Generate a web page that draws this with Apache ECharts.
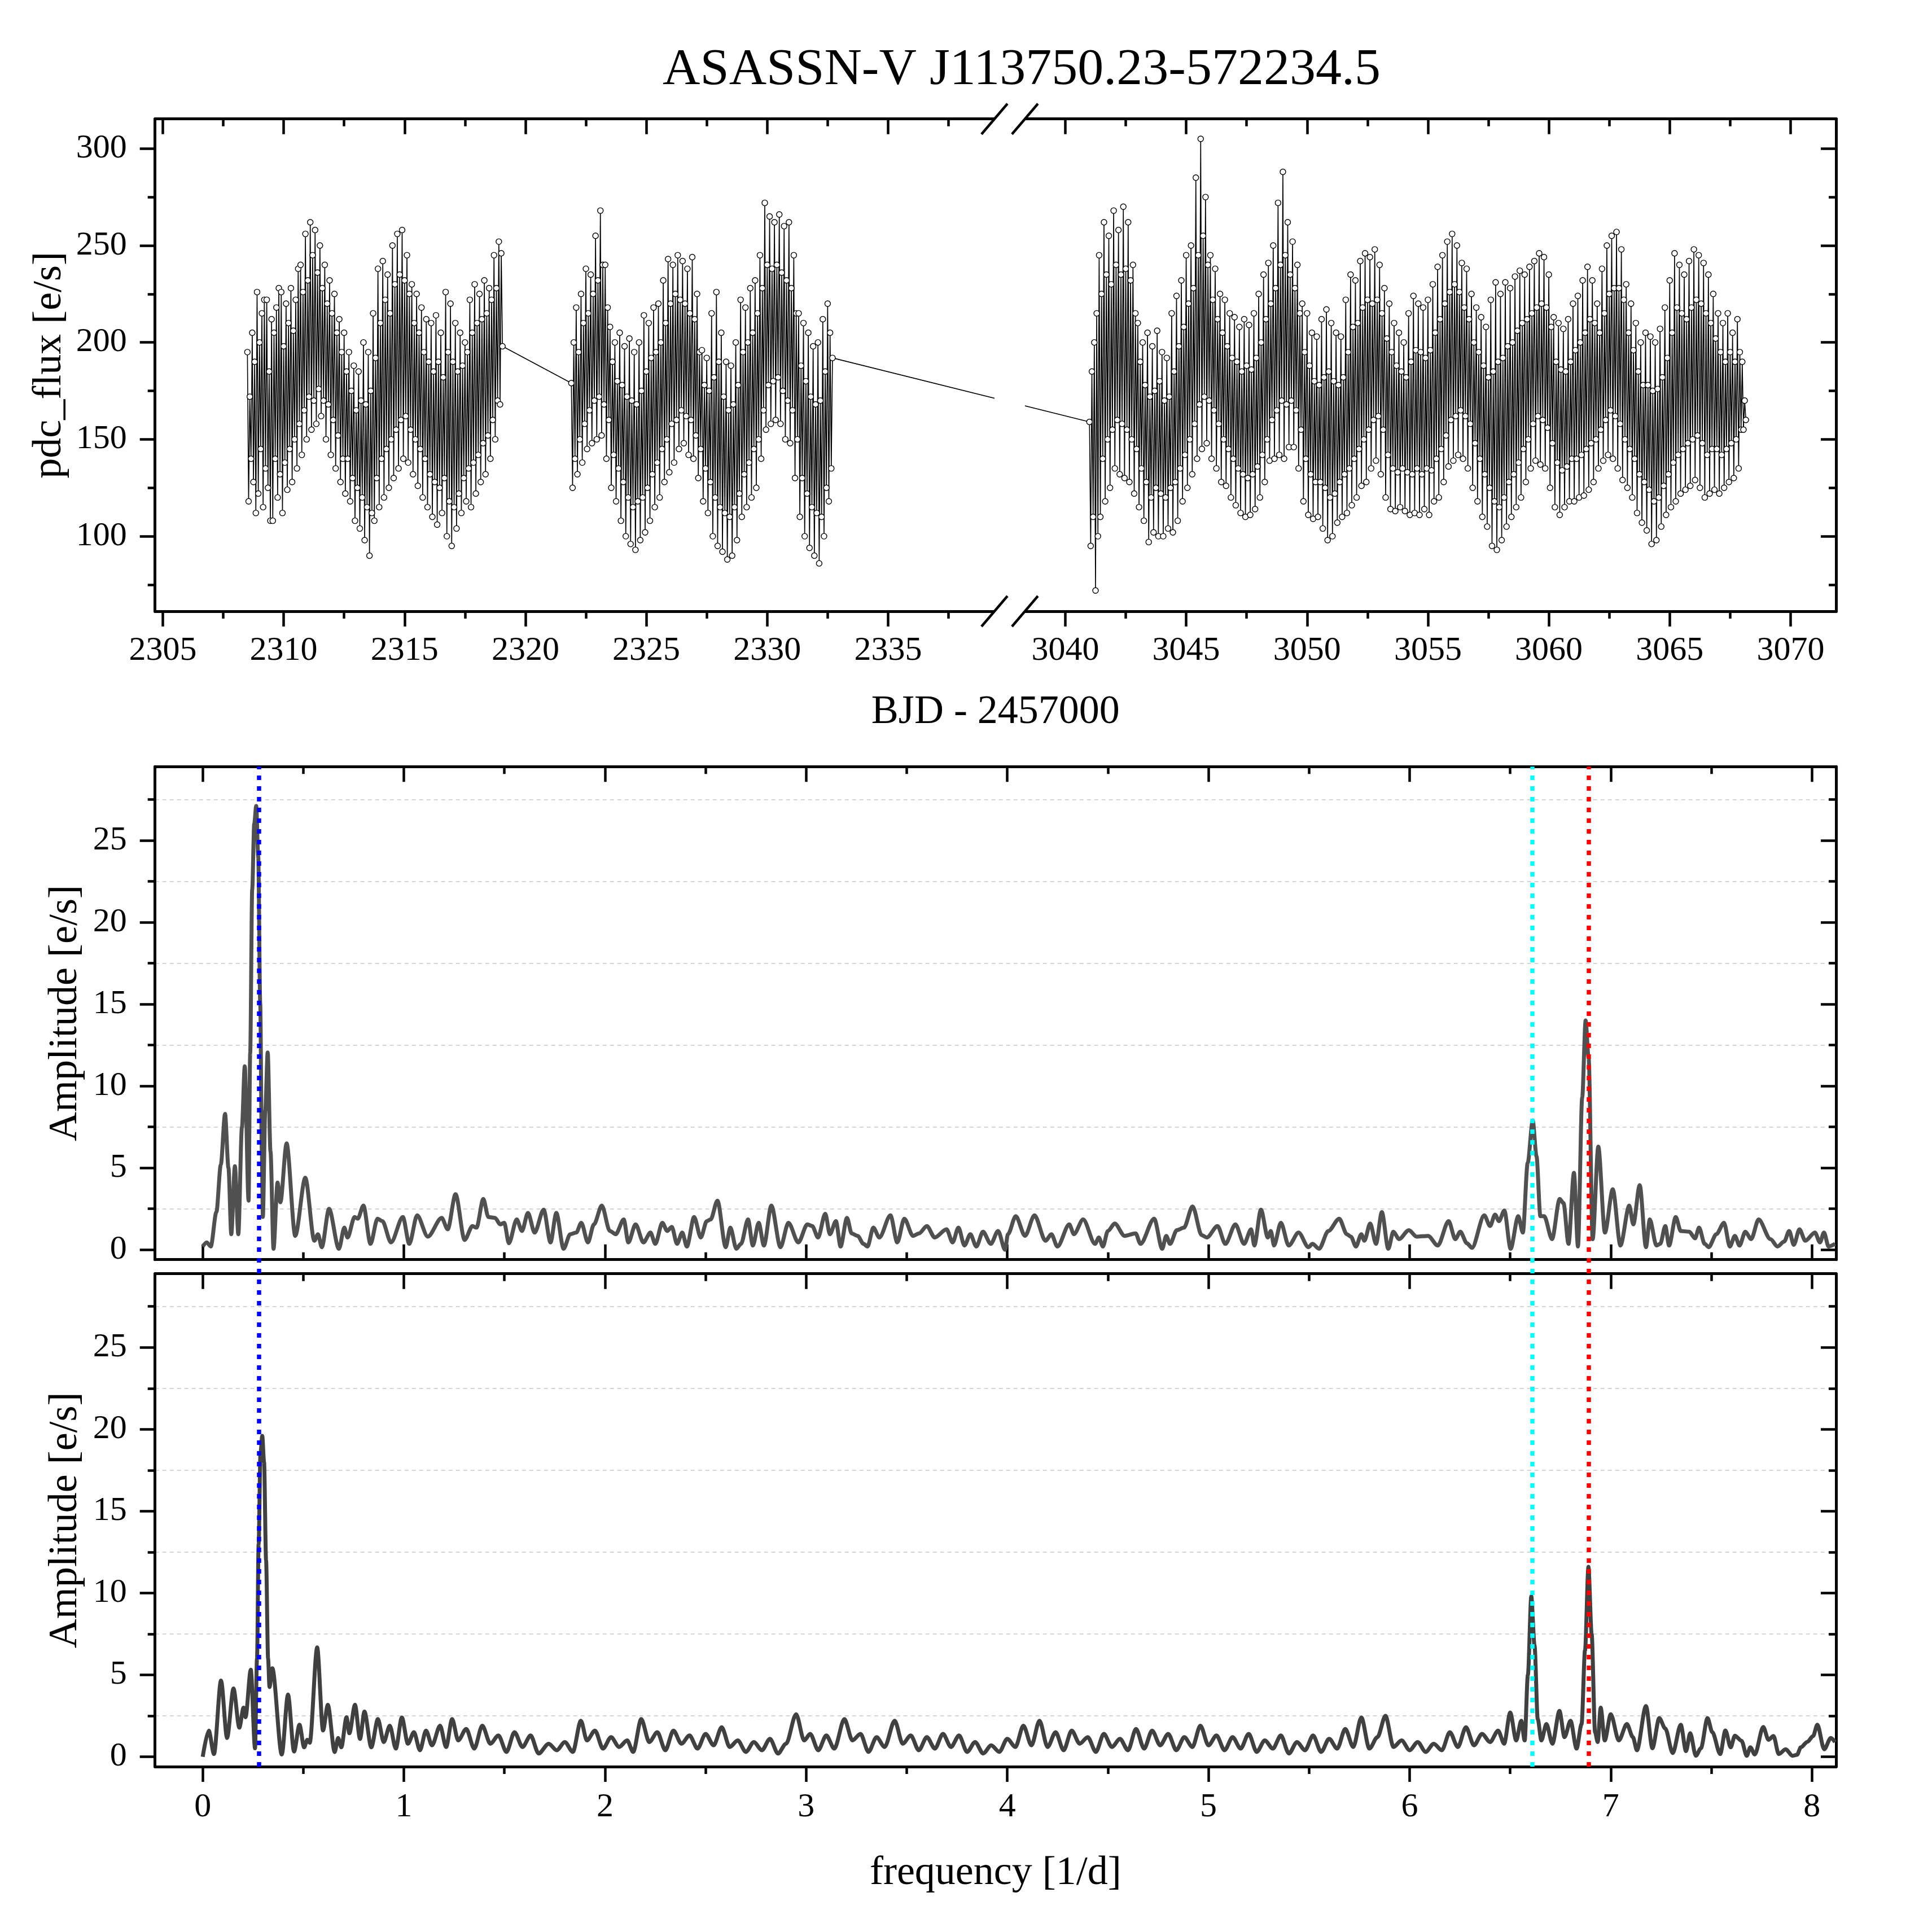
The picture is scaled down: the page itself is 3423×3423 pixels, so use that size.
<!DOCTYPE html>
<html>
<head>
<meta charset="utf-8">
<title>ASASSN-V J113750.23-572234.5</title>
<script src="https://cdn.jsdelivr.net/npm/echarts@6/dist/echarts.min.js"></script>
<style>
html,body{margin:0;padding:0;background:#fff;}
#chart{width:3423px;height:3423px;}
</style>
</head>
<body>
<div id="chart"></div>
<script>

// light curve: three stretches (e/s), one value per 0.05 d
const lcStartA = 2308.5
const lcStartB = 2321.9
const lcStartC = 3041.0
const lcStep = 0.05

const fluxA = [
195,118,172,140, 205,128,190,112, 226,122,200,145, 215,115,222,135, 222,125,185,108,
212,108,205,140, 218,120,228,132, 226,112,198,138, 220,124,210,145, 228,128,206,150,
222,135,238,158, 240,142,226,165, 256,150,232,172, 262,155,245,170, 258,158,236,176,
250,162,228,170, 240,150,220,168, 232,142,215,160, 225,135,205,152, 212,128,195,140,
205,122,185,140, 195,118,175,130, 188,108,165,125, 185,104,170,120, 200,98,168,115,
195,90,175,112, 215,108,192,130, 238,115,210,140, 242,120,222,145, 235,125,215,150,
250,130,230,155, 256,135,235,160, 258,140,232,162, 245,138,225,155, 230,132,210,150,
225,126,205,145, 218,120,195,140, 212,115,190,132, 210,110,185,128, 214,106,190,125,
205,112,182,130, 226,100,195,118, 220,95,190,115, 210,104,185,122, 205,112,188,130,
200,118,195,135, 222,115,205,138, 230,122,210,142, 225,128,212,148, 232,132,215,152,
228,140,222,160, 245,150,228,170, 252,168,246,198
]

const fluxB = [
179,125,200,140, 218,132,195,150, 225,138,210,158, 238,145,215,165, 235,148,225,170,
255,150,232,172, 268,152,240,168, 240,140,218,160, 208,125,190,142, 200,118,180,135,
205,108,178,128, 198,100,172,120, 202,96,170,115, 195,93,168,118, 200,98,175,120,
214,102,185,125, 210,108,192,132, 218,115,195,138, 220,120,200,145, 232,128,210,150,
243,133,220,158, 240,138,225,160, 245,145,222,165, 242,148,220,162, 238,142,215,160,
244,140,212,152, 225,130,195,145, 196,118,178,135, 192,112,175,128, 215,100,182,120,
226,95,190,115, 205,92,172,112, 190,88,165,110, 188,90,168,115, 200,98,178,122,
222,110,195,132, 218,115,200,138, 228,120,205,145, 232,125,215,150, 245,140,228,165,
272,155,240,178, 265,158,238,180, 262,160,240,182, 266,158,236,175, 260,150,232,170,
262,148,228,165, 245,130,215,150, 215,110,188,130, 210,100,180,122, 205,94,172,115,
198,90,168,112, 200,86,170,110, 212,100,185,125, 220,118,205,135, 192
]

const fluxC = [
159,95,185,110, 200,72,215,100, 245,110,225,140, 262,118,235,150, 255,125,230,155,
268,135,240,160, 258,132,235,158, 270,130,238,155, 262,128,232,150, 240,122,215,145,
210,115,190,135, 200,108,178,128, 205,97,172,120, 198,102,175,125, 206,100,180,122,
195,100,170,120, 192,104,172,125, 215,102,185,128, 224,108,198,135, 232,118,208,142,
245,125,220,150, 250,132,228,158, 285,140,245,168, 305,145,255,172, 275,148,240,170,
245,140,222,165, 238,135,212,158, 225,128,205,150, 222,126,198,145, 215,120,192,140,
213,116,190,135, 208,112,185,132, 212,110,188,130, 209,111,186,132, 215,114,192,136,
225,120,200,142, 235,128,212,150, 241,139,220,160, 250,140,228,165, 272,142,240,170,
288,140,245,168, 262,146,235,170, 252,146,228,165, 240,135,215,155, 220,118,195,140,
215,111,188,132, 205,109,180,128, 203,110,178,128, 212,104,182,125, 217,98,185,120,
210,100,180,122, 205,107,178,128, 203,110,182,132, 222,112,195,135, 235,116,208,140,
232,120,210,145, 242,126,218,150, 246,128,222,155, 244,135,220,160, 248,139,222,162,
240,132,215,155, 228,120,202,142, 220,114,195,135, 210,113,188,133, 205,115,185,135,
200,113,182,133, 215,111,190,132, 224,112,196,135, 220,111,195,132, 218,114,192,135,
222,111,196,134, 230,118,205,140, 239,120,212,145, 245,128,220,152, 252,136,226,160,
256,139,230,162, 250,142,226,165, 241,140,218,162, 238,135,212,158, 225,125,200,148,
218,118,195,140, 213,110,188,132, 208,105,182,125, 222,95,185,118, 231,93,190,115,
225,98,192,120, 231,105,198,128, 228,110,200,132, 234,115,206,138, 237,120,210,145,
235,128,212,150, 239,135,215,158, 242,139,218,162, 246,137,220,160, 244,135,218,156,
235,125,208,148, 213,115,190,138, 210,111,186,134, 207,115,185,136, 212,118,190,140,
220,118,196,140, 224,120,200,142, 232,121,205,145, 239,124,212,148, 232,128,210,150,
220,135,205,155, 238,139,215,160, 250,142,225,165, 255,140,228,162, 257,135,228,158,
248,129,222,150, 230,125,205,145, 220,120,196,140, 210,112,185,132, 200,107,178,128,
205,103,178,124, 203,96,175,118, 200,98,176,120, 207,105,182,126, 218,111,192,132,
232,115,205,138, 246,118,218,142, 240,122,215,145, 235,124,212,148, 242,126,218,150,
248,129,222,152, 245,125,220,148, 241,120,215,142, 235,122,210,145, 225,124,202,145,
215,122,195,142, 210,125,190,145, 215,128,195,148, 205,130,190,150, 212,135,195,155,
190,155,170,160
]

// broken time axis
const timeMin = 2304.68
const timeMax = 3071.88
const breakStart = 2339.40
const breakEnd = 3038.33
const breakGap = 1.26
const timeTicks = [2305,2310,2315,2320,2325,2330,2335,3040,3045,3050,3055,3060,3065,3070]
const timeMinor = [2307.5,2312.5,2317.5,2322.5,2327.5,2332.5,2337.5,3042.5,3047.5,3052.5,3057.5,3062.5,3067.5]
const fluxMin = 61.3
const fluxMax = 315.3
const fluxTicks = [100,150,200,250,300]
const fluxMinor = [75,125,175,225,275]

// amplitude spectra [frequency 1/d, amplitude e/s]
const pgUpper = [
[0,0.2],[0.02,0.45],[0.04,0.2],[0.068,2.3],[0.09,5.2],[0.111,8.3],[0.128,5.0],[0.142,0.95],[0.160,5.1],[0.177,0.95],
[0.195,7.5],[0.209,11.2],[0.228,3.0],[0.236,12],[0.246,22],[0.256,26],[0.266,27.1],[0.276,24],[0.286,15],[0.294,6],
[0.299,2.0],[0.311,8.5],[0.323,12.05],[0.337,6],[0.352,0.06],[0.372,4.1],[0.386,2.9],[0.417,6.5],[0.460,0.85],[0.510,4.4],
[0.555,0.55],[0.573,0.95],[0.592,0.16],[0.628,2.5],[0.677,0.06],[0.704,1.35],[0.720,0.75],[0.755,2.0],[0.771,1.9],[0.799,2.7],
[0.834,0.36],[0.869,1.9],[0.893,1.75],[0.936,0.45],[0.995,2.0],[1.027,0.36],[1.066,2.1],[1.119,0.8],[1.188,1.95],[1.218,1.25],
[1.257,3.4],[1.302,0.6],[1.341,1.45],[1.361,1.35],[1.395,3.1],[1.420,2.0],[1.453,1.95],[1.479,1.55],[1.499,1.65],[1.522,0.4],
[1.561,1.85],[1.587,1.15],[1.617,2.25],[1.650,1.05],[1.695,2.45],[1.729,0.45],[1.758,2.25],[1.794,0.06],[1.827,0.95],[1.857,1.05],
[1.882,1.65],[1.915,0.45],[1.945,1.55],[1.984,2.7],[2.024,1.15],[2.053,0.95],[2.093,1.85],[2.116,0.45],[2.152,1.55],[2.191,0.45],
[2.226,1.05],[2.250,0.36],[2.285,1.65],[2.309,1.15],[2.332,1.4],[2.358,0.36],[2.384,1.05],[2.407,0.2],[2.443,2.0],[2.476,0.75],
[2.506,1.75],[2.525,1.85],[2.559,3.0],[2.600,0.16],[2.623,1.35],[2.653,0.06],[2.676,0.36],[2.711,1.85],[2.735,0.26],[2.764,1.65],
[2.790,0.26],[2.827,2.7],[2.872,0.16],[2.912,1.65],[2.961,0.45],[3.006,1.55],[3.030,1.45],[3.059,0.75],[3.095,2.2],[3.118,0.95],
[3.148,1.75],[3.171,0.2],[3.203,1.95],[3.226,1.0],[3.256,0.85],[3.285,0.36],[3.305,0.2],[3.334,1.35],[3.364,0.75],[3.419,2.1],
[3.453,0.45],[3.488,1.9],[3.531,0.85],[3.561,1.0],[3.600,1.45],[3.639,0.75],[3.698,1.25],[3.728,0.45],[3.757,1.35],[3.787,0.26],
[3.816,0.95],[3.846,0.2],[3.879,1.1],[3.918,0.36],[3.954,1.15],[3.989,0.0],[4.003,0.95],[4.042,2.05],[4.088,0.85],[4.135,2.1],
[4.190,0.55],[4.219,0.95],[4.249,0.2],[4.308,1.55],[4.331,0.95],[4.377,1.85],[4.436,0.36],[4.455,0.75],[4.475,0.2],[4.500,1.15],
[4.534,1.6],[4.583,0.85],[4.638,1.0],[4.662,0.36],[4.730,1.9],[4.770,0.06],[4.790,0.85],[4.809,0.36],[4.843,1.2],[4.878,1.35],
[4.921,2.65],[4.966,0.9],[4.992,0.75],[5.045,1.45],[5.084,0.36],[5.134,1.55],[5.177,0.36],[5.212,1.25],[5.228,0.26],[5.261,2.45],
[5.295,0.75],[5.310,1.15],[5.326,0.26],[5.360,1.65],[5.399,0.26],[5.448,1.05],[5.497,0.16],[5.517,0.36],[5.550,0.06],[5.596,1.15],
[5.650,1.9],[5.688,0.95],[5.708,0.8],[5.733,0.2],[5.760,0.95],[5.775,0.55],[5.804,1.6],[5.833,0.36],[5.862,2.3],[5.894,0.06],
[5.919,1.1],[5.948,0.65],[5.996,1.2],[6.035,0.8],[6.092,0.85],[6.140,0.26],[6.194,1.75],[6.227,0.65],[6.252,1.1],[6.285,0.4],
[6.310,0.12],[6.371,2.1],[6.400,1.45],[6.425,2.15],[6.444,1.75],[6.471,2.4],[6.502,0.06],[6.540,2.05],[6.563,1.05],[6.587,5.3],
[6.612,7.9],[6.631,5.7],[6.650,2.05],[6.669,2.05],[6.708,0.65],[6.746,3.1],[6.765,2.85],[6.790,0.36],[6.817,4.7],[6.837,0.2],
[6.858,9.3],[6.875,14.0],[6.890,11.7],[6.910,0.65],[6.938,6.3],[6.971,1.05],[7.010,3.7],[7.048,0.26],[7.092,2.7],[7.112,1.55],
[7.144,3.95],[7.175,0.16],[7.194,1.85],[7.227,0.26],[7.246,0.36],[7.271,1.45],[7.290,0.26],[7.323,2.0],[7.348,1.15],[7.390,1.1],
[7.419,0.7],[7.439,1.35],[7.467,0.36],[7.487,0.16],[7.525,0.95],[7.563,1.65],[7.592,0.2],[7.617,0.85],[7.640,0.26],[7.669,1.1],
[7.698,0.65],[7.735,1.85],[7.794,0.65],[7.829,0.2],[7.862,0.5],[7.887,1.15],[7.910,0.3],[7.938,1.25],[7.967,0.55],[8.015,1.05],
[8.040,0.45],[8.060,1.05],[8.083,0.2],[8.115,0.36]
]

const pgLower = [
[0,0],[0.030,1.6],[0.056,0.17],[0.091,4.66],[0.121,1.15],[0.153,4.17],[0.182,1.78],[0.203,3.0],[0.213,2.42],[0.239,5.32],
[0.260,0.52],[0.270,6],[0.278,13],[0.287,18.5],[0.296,19.6],[0.305,18],[0.315,12],[0.325,6],[0.332,4.26],[0.346,5.41],
[0.393,0.14],[0.424,3.8],[0.454,0.32],[0.481,1.96],[0.504,0.58],[0.520,1.04],[0.532,0.86],[0.569,6.68],[0.598,1.61],[0.622,3.17],
[0.656,0.29],[0.673,1.15],[0.689,0.58],[0.715,2.42],[0.729,1.44],[0.757,3.17],[0.782,1.09],[0.804,2.76],[0.838,0.58],[0.871,2.3],
[0.90,0.9],[0.93,1.9],[0.96,0.5],[0.99,2.4],[1.02,0.8],[1.05,1.5],[1.08,0.4],[1.11,1.6],[1.14,0.7],[1.18,1.9],
[1.21,0.6],[1.24,2.3],[1.27,1.0],[1.31,1.7],[1.35,0.5],[1.39,1.9],[1.43,0.8],[1.47,1.3],[1.51,0.3],[1.55,1.5],
[1.59,0.6],[1.63,1.3],[1.67,0.2],[1.72,0.8],[1.76,0.4],[1.80,0.9],[1.84,0.3],[1.88,2.2],[1.91,1.0],[1.95,1.6],
[1.99,0.5],[2.03,1.2],[2.07,0.6],[2.11,1.0],[2.14,0.3],[2.18,2.3],[2.22,0.9],[2.26,1.5],[2.30,0.4],[2.34,1.6],
[2.38,0.8],[2.42,1.3],[2.46,0.5],[2.50,1.4],[2.54,0.7],[2.58,1.8],[2.62,0.6],[2.66,1.0],[2.70,0.3],[2.74,0.9],
[2.78,0.4],[2.82,1.1],[2.86,0.2],[2.90,0.8],[2.95,2.6],[2.99,1.0],[3.02,1.4],[3.06,0.4],[3.10,1.3],[3.14,0.5],
[3.19,2.3],[3.23,1.0],[3.27,1.4],[3.31,0.3],[3.35,1.2],[3.39,0.6],[3.44,2.2],[3.48,0.8],[3.52,1.3],[3.56,0.4],
[3.60,1.2],[3.64,0.5],[3.68,1.4],[3.72,0.6],[3.76,1.3],[3.80,0.3],[3.84,0.9],[3.88,0.2],[3.92,0.7],[3.96,0.3],
[4.00,1.1],[4.04,0.6],[4.08,1.9],[4.12,0.7],[4.16,2.2],[4.20,0.6],[4.24,1.5],[4.28,0.4],[4.32,1.6],[4.36,0.8],
[4.40,1.2],[4.44,0.3],[4.48,1.4],[4.52,0.6],[4.56,1.1],[4.60,0.4],[4.64,1.7],[4.68,0.5],[4.72,1.6],[4.76,0.7],
[4.80,1.4],[4.84,0.4],[4.88,1.2],[4.92,0.6],[4.96,1.9],[5.00,0.7],[5.04,1.3],[5.08,0.4],[5.12,1.2],[5.16,0.5],
[5.20,1.4],[5.24,0.3],[5.28,1.0],[5.32,0.5],[5.36,1.3],[5.40,0.2],[5.44,0.9],[5.48,0.4],[5.52,1.3],[5.56,0.3],
[5.60,1.1],[5.64,0.5],[5.68,1.7],[5.72,0.6],[5.76,2.4],[5.80,0.5],[5.84,1.2],[5.88,2.5],[5.92,0.6],[5.96,1.0],
[6.00,0.4],[6.04,0.9],[6.08,0.3],[6.12,0.8],[6.16,0.4],[6.20,1.5],[6.24,0.6],[6.28,1.8],[6.32,0.7],[6.36,1.4],
[6.40,0.9],[6.44,1.6],[6.47,0.8],[6.50,2.7],[6.53,1.0],[6.555,2.2],[6.572,1.0],[6.588,5.0],[6.605,9.8],[6.621,6.8],
[6.637,2.3],[6.655,1.0],[6.68,2.0],[6.71,0.8],[6.745,2.8],[6.77,1.2],[6.80,2.2],[6.83,0.5],[6.855,2.0],[6.872,6.5],
[6.889,11.6],[6.905,7.5],[6.922,1.5],[6.935,0.9],[6.95,3.0],[6.97,1.0],[7.00,2.6],[7.04,1.0],[7.08,2.0],[7.11,1.2],
[7.130,0.4],[7.175,3.1],[7.207,0.52],[7.241,2.36],[7.271,1.73],[7.308,0.23],[7.348,1.96],[7.374,0.35],[7.395,1.44],[7.423,0.06],
[7.448,0.52],[7.481,2.36],[7.505,1.5],[7.544,0.17],[7.570,1.61],[7.596,0.58],[7.617,1.29],[7.650,0.98],[7.676,0.06],[7.694,0.58],
[7.716,0.14],[7.758,1.82],[7.784,1.04],[7.809,1.27],[7.835,0.17],[7.870,0.46],[7.903,0.06],[7.926,0.12],[7.945,0.58],[7.978,0.92],
[8.006,1.27],[8.027,1.96],[8.061,0.46],[8.094,1.15],[8.115,0.9]
]

const freqMin = -0.237
const freqMax = 8.12
const freqTicks = [0,1,2,3,4,5,6,7,8]
const freqMinor = [0.5,1.5,2.5,3.5,4.5,5.5,6.5,7.5]
const ampMin = -0.6
const ampMax = 29.5
const ampTicks = [0,5,10,15,20,25]
const ampMinor = [2.5,7.5,12.5,17.5,22.5,27.5]

// marked frequencies
const markFreqs = [0.278, 6.605, 6.886]
const markColors = ['#0000ff', '#00ffff', '#ff0000']

const INK = '#000'
const SERIF = 'Liberation Serif'
const nameStyle = {fontFamily: SERIF, fontSize: 72, color: INK}

function ax(o){
  const a = {
    type: 'value',
    gridIndex: o.grid,
    position: o.pos,
    min: o.min,
    max: o.max,
    axisLine: {show: !!o.line, onZero: false, lineStyle: {color: INK, width: 5}},
    axisTick: {show: true, customValues: o.ticks, length: o.len, inside: !!o.inside, lineStyle: {color: INK, width: 4.5}},
    axisLabel: o.labels ? {
      show: true, customValues: o.ticks, fontFamily: SERIF, fontSize: 60, color: INK,
      margin: o.margin, formatter: v => String(v)
    } : {show: false},
    splitLine: {show: false},
    axisPointer: {show: false}
  }
  return Object.assign(a, o.extra || {})
}

const timeBreak = {
  breaks: [{start: breakStart, end: breakEnd, gap: breakGap}],
  breakArea: {show: false}
}

const xAxes = [
  // top panel
  ax({grid:0, pos:'bottom', min:timeMin, max:timeMax, ticks:timeTicks, len:27, line:true, labels:true, margin:40,
      extra:Object.assign({name:'BJD - 2457000', nameLocation:'middle', nameGap:143, nameTextStyle:nameStyle}, timeBreak)}),
  ax({grid:0, pos:'bottom', min:timeMin, max:timeMax, ticks:timeMinor, len:13, extra:timeBreak}),
  ax({grid:0, pos:'top', min:timeMin, max:timeMax, ticks:timeTicks, len:27, inside:true, line:true, extra:timeBreak}),
  ax({grid:0, pos:'top', min:timeMin, max:timeMax, ticks:timeMinor, len:13, inside:true, extra:timeBreak}),
  // middle panel
  ax({grid:1, pos:'bottom', min:freqMin, max:freqMax, ticks:freqTicks, len:27, inside:true, line:true}),
  ax({grid:1, pos:'bottom', min:freqMin, max:freqMax, ticks:freqMinor, len:13, inside:true}),
  ax({grid:1, pos:'top', min:freqMin, max:freqMax, ticks:freqTicks, len:27, inside:true, line:true}),
  ax({grid:1, pos:'top', min:freqMin, max:freqMax, ticks:freqMinor, len:13, inside:true}),
  // bottom panel
  ax({grid:2, pos:'bottom', min:freqMin, max:freqMax, ticks:freqTicks, len:27, line:true, labels:true, margin:42,
      extra:{name:'frequency [1/d]', nameLocation:'middle', nameGap:153, nameTextStyle:nameStyle}}),
  ax({grid:2, pos:'bottom', min:freqMin, max:freqMax, ticks:freqMinor, len:13}),
  ax({grid:2, pos:'top', min:freqMin, max:freqMax, ticks:freqTicks, len:27, inside:true, line:true}),
  ax({grid:2, pos:'top', min:freqMin, max:freqMax, ticks:freqMinor, len:13, inside:true}),
  // overlay for the marker lines
  {type:'value', gridIndex:3, min:freqMin, max:freqMax, show:false}
]

const gridLineStyle = {show: true, lineStyle: {color: '#c8c8c8', width: 1.5, type: [7, 6]}}

function ampAxes(grid){
  return [
    ax({grid, pos:'left', min:ampMin, max:ampMax, ticks:ampTicks, len:27, line:true, labels:true, margin:50,
        extra:{name:'Amplitude [e/s]', nameLocation:'middle', nameRotate:90, nameGap:123, nameTextStyle:nameStyle}}),
    ax({grid, pos:'left', min:ampMin, max:ampMax, ticks:ampMinor, len:13, extra:{splitLine:gridLineStyle}}),
    ax({grid, pos:'right', min:ampMin, max:ampMax, ticks:ampTicks, len:27, inside:true, line:true}),
    ax({grid, pos:'right', min:ampMin, max:ampMax, ticks:ampMinor, len:13, inside:true})
  ]
}

const yAxes = [
  ax({grid:0, pos:'left', min:fluxMin, max:fluxMax, ticks:fluxTicks, len:27, line:true, labels:true, margin:50,
      extra:{name:'pdc_flux [e/s]', nameLocation:'middle', nameRotate:90, nameGap:144, nameTextStyle:nameStyle}}),
  ax({grid:0, pos:'left', min:fluxMin, max:fluxMax, ticks:fluxMinor, len:13}),
  ax({grid:0, pos:'right', min:fluxMin, max:fluxMax, ticks:fluxTicks, len:27, inside:true, line:true}),
  ax({grid:0, pos:'right', min:fluxMin, max:fluxMax, ticks:fluxMinor, len:13, inside:true}),
  ...ampAxes(1),
  ...ampAxes(2),
  {type:'value', gridIndex:3, min:0, max:1, show:false}
]

const lcData = [
  ...fluxA.map((v, i) => [lcStartA + i * lcStep, v]),
  ...fluxB.map((v, i) => [lcStartB + i * lcStep, v]),
  ...fluxC.map((v, i) => [lcStartC + i * lcStep, v])
]

const gridBox = {left: 274.7, width: 2978.3, containLabel: false, outerBoundsMode: 'none'}

const chart = echarts.init(document.getElementById('chart'), null, {renderer: 'canvas'})

chart.setOption({
  animation: false,
  backgroundColor: '#fff',
  title: {
    text: 'ASASSN-V J113750.23-572234.5',
    left: 1805,
    top: 74,
    textAlign: 'center',
    textStyle: {fontFamily: SERIF, fontSize: 92, fontWeight: 'normal', color: INK}
  },
  grid: [
    Object.assign({top: 210.7, height: 872.3}, gridBox),
    Object.assign({top: 1358.3, height: 873.4}, gridBox),
    Object.assign({top: 2256.7, height: 873.3}, gridBox),
    Object.assign({top: 1358.3, height: 1771.7}, gridBox)
  ],
  xAxis: xAxes,
  yAxis: yAxes,
  series: [
    {
      type: 'line',
      xAxisIndex: 0,
      yAxisIndex: 0,
      data: lcData,
      showSymbol: true,
      symbol: 'circle',
      symbolSize: 10,
      lineStyle: {color: INK, width: 1.6},
      itemStyle: {color: '#fff', borderColor: INK, borderWidth: 1.4},
      clip: true,
      silent: true
    },
    {
      type: 'line',
      xAxisIndex: 4,
      yAxisIndex: 4,
      data: pgUpper,
      showSymbol: false,
      smooth: 0.3,
      smoothMonotone: 'x',
      lineStyle: {color: '#505050', width: 7},
      silent: true
    },
    {
      type: 'line',
      xAxisIndex: 8,
      yAxisIndex: 8,
      data: pgLower,
      showSymbol: false,
      smooth: 0.3,
      smoothMonotone: 'x',
      lineStyle: {color: '#404040', width: 7},
      silent: true
    },
    {
      type: 'line',
      xAxisIndex: 12,
      yAxisIndex: 12,
      data: [],
      z: 5,
      silent: true,
      markLine: {
        silent: true,
        symbol: 'none',
        label: {show: false},
        animation: false,
        data: markFreqs.map((f, i) => ({
          xAxis: f,
          lineStyle: {color: markColors[i], width: 7.5, type: [8, 11]}
        }))
      }
    }
  ]
})

// cut the frame at the axis break and draw the // marks
const xl = chart.convertToPixel({xAxisIndex: 0}, breakStart)
const xr = chart.convertToPixel({xAxisIndex: 0}, breakEnd)
const edges = [210.7, 1083]
const marks = []
marks.push({
  type: 'rect', z: 100, silent: true,
  shape: {x: xl, y: 204, width: xr - xl, height: 886},
  style: {fill: '#fff'}
})
edges.forEach(y => {
  [xl, xr].forEach(x => {
    marks.push({
      type: 'line', z: 101, silent: true,
      shape: {x1: x + 23, y1: y - 27, x2: x - 23, y2: y + 27},
      style: {stroke: INK, lineWidth: 4.5}
    })
  })
})
chart.setOption({graphic: marks})

</script>
</body>
</html>
